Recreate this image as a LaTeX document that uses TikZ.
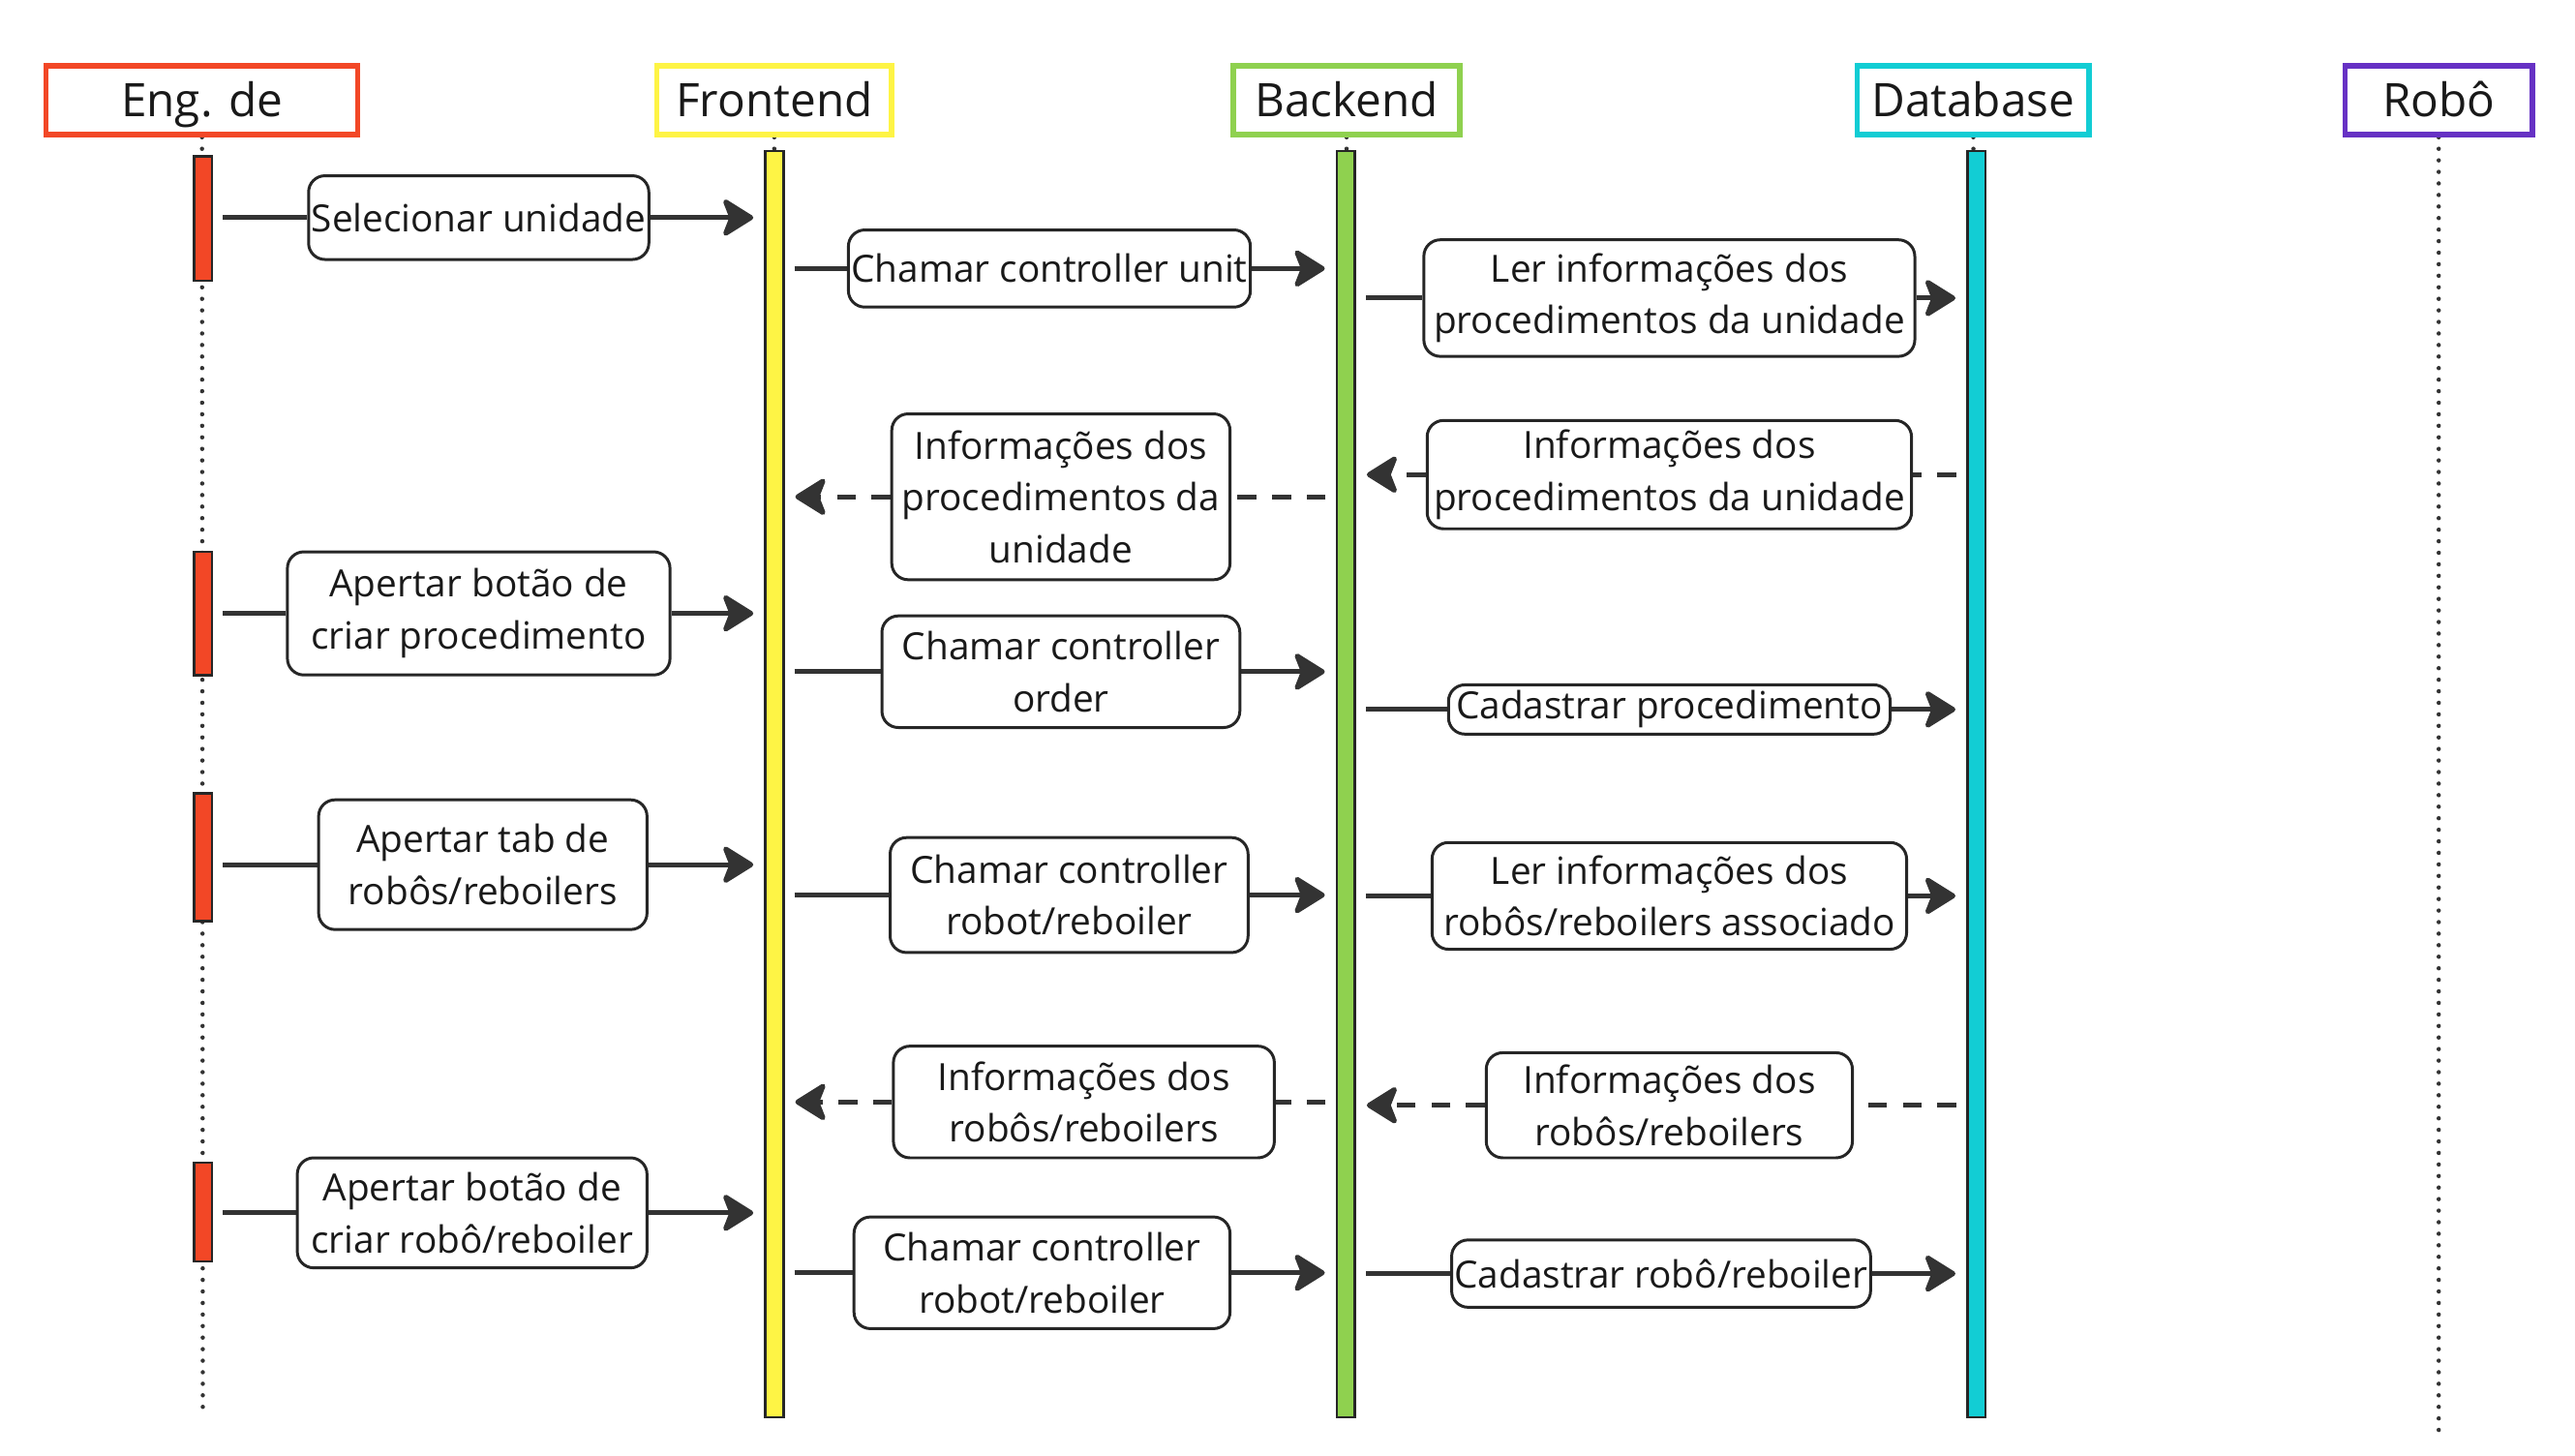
\documentclass[tikz,border=0pt]{standalone}
\usepackage{fontspec}
\setmainfont{Open Sans}
\usepackage{tikz}
\usetikzlibrary{
        arrows.meta,
        backgrounds,
        fit,
        positioning
    }
\definecolor{engred}{HTML}{F24726}
\definecolor{frontyellow}{HTML}{FEF445}
\definecolor{backgreen}{HTML}{8FD14F}
\definecolor{dbcyan}{HTML}{12CDD4}
\definecolor{robopurple}{HTML}{6631C4}
\definecolor{ink}{HTML}{333333}
\tikzset{>={Stealth[length=0.42cm,width=0.52cm,inset=0.1cm,round]}}
\tikzset{
    head/.style={draw, line width=1.8pt, minimum height=0.84cm, inner sep=1pt,
        text height=11.5pt, text depth=0pt, text=black!90, font=\fontsize{16}{19}\selectfont},
    lifeline/.style={draw=ink, line width=1.5pt, dash pattern=on 0pt off 4pt, line cap=round},
    bar/.style={draw=black!85, line width=0.9pt, inner sep=0pt},
    msgbox/.style={draw=black!85, fill=white, rounded corners=0.2cm, line width=1pt,
        align=center, inner sep=1pt, text=black!90, font=\fontsize{13}{18}\selectfont},
    wire/.style={draw=ink, line width=1.7pt, shorten <=0.12cm},
    msg/.style={draw=ink, line width=1.7pt, ->, shorten >=0.13cm},
    dwire/.style={wire, dash pattern=on 6.5pt off 5.5pt},
    dmsg/.style={msg, dash pattern=on 6.5pt off 5.5pt}
}

\begin{document}
\begin{tikzpicture}[x=0.02cm,y=-0.02cm]
    \useasboundingbox (0,0) rectangle (1568,886);
    \begin{scope}[on background layer]
        \fill[white] (0,0) rectangle (1568,886);
    \end{scope}
    % participants
    \node[head, draw=engred, minimum width=3.8cm] (eng) at (123,61) {Eng. de};
    \node[head, draw=frontyellow, minimum width=2.86cm] (front) at (471.5,61) {Frontend};
    \node[head, draw=backgreen, minimum width=2.76cm] (back) at (820,61) {Backend};
    \node[head, draw=dbcyan, minimum width=2.82cm] (db) at (1201.5,61) {Database};
    \node[head, draw=robopurple, minimum width=2.28cm] (robo) at (1485,61) {Robô};
    \coordinate (engend) at (123.5,860);
    \coordinate (roboend) at (1485,875);

    % activation bars
    \node[bar, fill=engred, fit={(118,95) (129,171)}] (e1) {};
    \node[bar, fill=engred, fit={(118,336) (129,411)}] (e2) {};
    \node[bar, fill=engred, fit={(118,483) (129,561)}] (e3) {};
    \node[bar, fill=engred, fit={(118,708) (129,768)}] (e4) {};
    \node[bar, fill=frontyellow, fit={(466,92) (477,863)}] (fb) {};
    \node[bar, fill=backgreen, fit={(814,92) (825,863)}] (bb) {};
    \node[bar, fill=dbcyan, fit={(1198,92) (1209,863)}] (dbb) {};

    % lifelines
    \begin{scope}[on background layer]
        \path (eng) edge[lifeline] (engend)
              (front) edge[lifeline] (fb)
              (back) edge[lifeline] (bb)
              (db) edge[lifeline] (dbb)
              (robo) edge[lifeline] (roboend);
    \end{scope}

    % messages
    \node[msgbox, minimum width=4.14cm, minimum height=1.02cm] (m1) at (291.5,132.5) {Selecionar unidade};
    \node[msgbox, minimum width=4.88cm, minimum height=0.94cm] (m2) at (639,163.5) {Chamar controller unit};
    \node[msgbox, minimum width=5.98cm, minimum height=1.42cm] (m3) at (1016.5,181.5) {Ler informações dos\\procedimentos da unidade};
    \node[msgbox, minimum width=5.9cm, minimum height=1.32cm] (m4) at (1016.5,289) {Informações dos\\procedimentos da unidade};
    \node[msgbox, minimum width=4.12cm, minimum height=2.02cm] (m5) at (646,302.5) {Informações dos\\procedimentos da\\unidade};
    \node[msgbox, minimum width=4.66cm, minimum height=1.5cm] (m6) at (291.5,373.5) {Apertar botão de\\criar procedimento};
    \node[msgbox, minimum width=4.36cm, minimum height=1.36cm] (m7) at (646,409) {Chamar controller\\order};
    \node[msgbox, minimum width=5.38cm, minimum height=0.6cm] (m8) at (1016.5,432) {Cadastrar procedimento};
    \node[msgbox, minimum width=4cm, minimum height=1.58cm] (m9) at (294,526.5) {Apertar tab de\\robôs/reboilers};
    \node[msgbox, minimum width=4.36cm, minimum height=1.4cm] (m10) at (651,545) {Chamar controller\\robot/reboiler};
    \node[msgbox, minimum width=5.78cm, minimum height=1.3cm] (m11) at (1016.5,545.5) {Ler informações dos\\robôs/reboilers associado};
    \node[msgbox, minimum width=4.46cm, minimum height=1.28cm] (m12) at (1016.5,673) {Informações dos\\robôs/reboilers};
    \node[msgbox, minimum width=4.64cm, minimum height=1.36cm] (m13) at (660,671) {Informações dos\\robôs/reboilers};
    \node[msgbox, minimum width=4.26cm, minimum height=1.34cm] (m14) at (287.5,738.5) {Apertar botão de\\criar robô/reboiler};
    \node[msgbox, minimum width=4.58cm, minimum height=1.36cm] (m15) at (634.5,775) {Chamar controller\\robot/reboiler};
    \node[msgbox, minimum width=5.1cm, minimum height=0.82cm] (m16) at (1011.5,775.5) {Cadastrar robô/reboiler};

    \begin{scope}[on background layer]
        \path
            (e1.east |- m1) edge[wire] (m1)   (m1) edge[msg] (fb.west |- m1)
            (fb.east |- m2) edge[wire] (m2)   (m2) edge[msg] (bb.west |- m2)
            (bb.east |- m3) edge[wire] (m3)   (m3) edge[msg] (dbb.west |- m3)
            (dbb.west |- m4) edge[dwire] (m4) (m4) edge[dmsg] (bb.east |- m4)
            (bb.west |- m5) edge[dwire] (m5)  (m5) edge[dmsg] (fb.east |- m5)
            (e2.east |- m6) edge[wire] (m6)   (m6) edge[msg] (fb.west |- m6)
            (fb.east |- m7) edge[wire] (m7)   (m7) edge[msg] (bb.west |- m7)
            (bb.east |- m8) edge[wire] (m8)   (m8) edge[msg] (dbb.west |- m8)
            (e3.east |- m9) edge[wire] (m9)   (m9) edge[msg] (fb.west |- m9)
            (fb.east |- m10) edge[wire] (m10) (m10) edge[msg] (bb.west |- m10)
            (bb.east |- m11) edge[wire] (m11) (m11) edge[msg] (dbb.west |- m11)
            (dbb.west |- m12) edge[dwire] (m12) (m12) edge[dmsg] (bb.east |- m12)
            (bb.west |- m13) edge[dwire] (m13) (m13) edge[dmsg] (fb.east |- m13)
            (e4.east |- m14) edge[wire] (m14) (m14) edge[msg] (fb.west |- m14)
            (fb.east |- m15) edge[wire] (m15) (m15) edge[msg] (bb.west |- m15)
            (bb.east |- m16) edge[wire] (m16) (m16) edge[msg] (dbb.west |- m16)
            ;
    \end{scope}
\end{tikzpicture}
\end{document}
